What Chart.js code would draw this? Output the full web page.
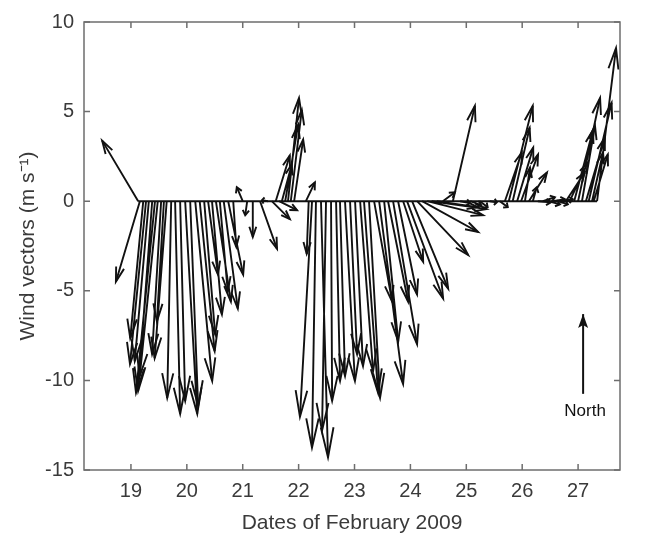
<!DOCTYPE html>
<html>
<head>
<meta charset="utf-8">
<script src="https://cdn.jsdelivr.net/npm/chart.js@4.4.1/dist/chart.umd.min.js"></script>
<style>
    html, body { margin: 0; padding: 0; background: #fff; }
    #wrap { width: 664px; height: 536px; }
</style>
</head>
<body>
<div id="wrap"><canvas id="windChart" width="664" height="536"></canvas></div>
<script>
// time of each observation (day of February 2009)
var TIMES = [
    19.13, 19.16, 19.22, 19.27, 19.32, 19.38, 19.43, 19.48, 19.54, 19.59,
    19.64, 19.72, 19.79, 19.88, 19.97, 20.06, 20.15, 20.23, 20.31, 20.38,
    20.45, 20.52, 20.59, 20.66, 20.74, 20.83, 21.00, 21.08, 21.18, 21.31,
    21.45, 21.52, 21.59, 21.65, 21.70, 21.76, 21.81, 21.86, 21.92, 22.13,
    22.18, 22.24, 22.31, 22.40, 22.49, 22.58, 22.67, 22.74, 22.83, 22.92,
    23.01, 23.10, 23.17, 23.26, 23.35, 23.44, 23.53, 23.60, 23.69, 23.78,
    23.87, 23.94, 24.03, 24.12, 24.21, 24.30, 24.38, 24.47, 24.58, 24.76,
    24.89, 25.07, 25.24, 25.42, 25.60, 25.69, 25.76, 25.83, 25.91, 25.98,
    26.05, 26.12, 26.19, 26.28, 26.37, 26.46, 26.55, 26.64, 26.71, 26.78,
    26.85, 26.93, 27.00, 27.07, 27.14, 27.19, 27.25, 27.28, 27.34
];
// east component (m/s)
var U_WIND = [
    -2.00, -1.33, -0.72, -0.89, -0.78, -0.78, -1.05, -1.00, -0.50, -0.39,
    -0.67, -0.22, 0.28, 0.28, 0.67, 0.44, 0.94, 0.83, 0.61, 0.55,
    0.55, 0.83, 0.44, 0.78, 0.83, 0.17, -0.33, -0.11, 0.00, 0.94,
    -0.33, 1.00, 0.78, 1.00, 0.55, 0.72, 0.61, 0.61, 0.50, 0.50,
    -0.11, -0.67, -0.22, 0.39, -0.22, 0.06, 0.22, 0.28, 0.55, 0.39,
    0.44, 0.72, 0.78, 0.61, 1.00, 1.33, 0.78, 1.11, 1.33, 1.05,
    1.11, 2.00, 2.00, 2.83, 3.10, 3.10, 3.05, 2.27, 0.67, 1.22,
    0.55, 0.61, 0.44, 0.39, 0.44, 0.94, 1.33, 0.94, 0.89, 0.94,
    0.28, 1.00, 0.22, 0.72, 0.67, 0.67, 0.67, 0.55, 0.61, 1.05,
    1.00, 1.05, 1.22, 0.72, 1.05, 1.27, 0.61, 0.78, 1.05
];
// north component (m/s)
var V_WIND = [
    3.38, -4.49, -7.65, -9.09, -8.92, -10.59, -10.70, -9.76, -8.54, -6.71,
    -8.76, -10.98, -11.86, -11.14, -11.86, -11.42, -10.03, -8.37, -7.43, -4.10,
    -6.32, -5.60, -5.04, -5.99, -4.10, -2.55, 0.78, -0.78, -2.00, -2.66,
    0.06, -1.00, 2.55, -0.50, 2.05, 4.27, 5.76, 5.10, 3.44, 1.05,
    -2.94, -12.03, -13.75, -14.30, -12.80, -11.14, -10.03, -9.76, -10.03, -8.54,
    -9.20, -9.48, -10.70, -10.98, -5.60, -10.20, -7.82, -5.60, -7.98, -5.21,
    -3.38, -5.43, -4.88, -3.00, -1.72, -0.78, -0.44, -0.33, 0.50, 5.32,
    -0.11, -0.22, -0.33, -0.06, -0.33, 2.72, 5.32, 4.10, 2.99, 2.61,
    1.88, 1.60, 0.78, -0.06, 0.22, -0.17, 0.11, -0.17, 0.11, 1.60,
    2.16, 3.99, 5.76, 4.21, 3.55, 5.49, 2.72, 2.61, 8.54
];

var X_TICKS = [19, 20, 21, 22, 23, 24, 25, 26, 27];
var Y_TICKS = [-15, -10, -5, 0, 5, 10];
var X_MIN = 18.16, X_MAX = 27.75;
var Y_MIN = -15, Y_MAX = 10;

// days of horizontal axis per 1 m/s, so that 1 m/s looks the same both ways
var U_SCALE = 0.3227;

// the "North" key arrow
var NORTH_T = 27.09, NORTH_Y0 = -10.75, NORTH_V = 4.45;

var INK = "#111111";
var AXIS_COLOR = "#6e6e6e";
var TEXT_COLOR = "#3a3a3a";
var FONT = "'Liberation Sans', Arial, Helvetica, sans-serif";
var LINE_W = 1.9;

var stems = [];
TIMES.forEach((t, i) => {
    stems.push({ x: t, y: 0 });
    stems.push({ x: t + U_WIND[i] * U_SCALE, y: V_WIND[i] });
    stems.push({ x: null, y: null });
});

var baseline = [
    { x: TIMES[0], y: 0 },
    { x: TIMES[TIMES.length - 1], y: 0 }
];

var northLine = [
    { x: NORTH_T, y: NORTH_Y0 },
    { x: NORTH_T, y: NORTH_Y0 + NORTH_V }
];

function drawHead(ctx, x0, y0, x1, y1) {
    var dx = x1 - x0, dy = y1 - y0;
    var len = Math.sqrt(dx * dx + dy * dy);
    if (len < 1.5) return;
    var ux = dx / len, uy = dy / len;
    var h = Math.min(len * 0.35, 7 + 0.09 * len);
    var w = 3 + 0.013 * len;
    var bx = x1 - ux * h, by = y1 - uy * h;
    ctx.beginPath();
    ctx.moveTo(bx - uy * w, by + ux * w);
    ctx.lineTo(x1, y1);
    ctx.lineTo(bx + uy * w, by - ux * w);
    ctx.stroke();
}

var arrowHeads = {
    id: "arrowHeads",
    afterDatasetsDraw(chart) {
        var xs = chart.scales.x, ys = chart.scales.y, ctx = chart.ctx, a = chart.chartArea;
        ctx.save();
        ctx.beginPath();
        ctx.rect(a.left, a.top, a.right - a.left, a.bottom - a.top);
        ctx.clip();
        ctx.strokeStyle = INK;
        ctx.lineWidth = LINE_W;
        ctx.lineJoin = "miter";
        TIMES.forEach((t, i) => {
            drawHead(ctx,
                xs.getPixelForValue(t), ys.getPixelForValue(0),
                xs.getPixelForValue(t + U_WIND[i] * U_SCALE), ys.getPixelForValue(V_WIND[i]));
        });
        var nx = xs.getPixelForValue(NORTH_T);
        var ny0 = ys.getPixelForValue(NORTH_Y0);
        var ny1 = ys.getPixelForValue(NORTH_Y0 + NORTH_V);
        ctx.fillStyle = INK;
        ctx.beginPath();
        ctx.moveTo(nx, ny1);
        ctx.lineTo(nx - 5, ny1 + 14);
        ctx.lineTo(nx, ny1 + 11);
        ctx.lineTo(nx + 5, ny1 + 14);
        ctx.closePath();
        ctx.fill();
        ctx.restore();

        ctx.save();
        ctx.fillStyle = "#111";
        ctx.font = "17px " + FONT;
        ctx.textAlign = "center";
        ctx.textBaseline = "top";
        ctx.fillText("North", nx + 2, ny0 + 9);
        ctx.restore();
    }
};

var frame = {
    id: "frame",
    afterDraw(chart) {
        var xs = chart.scales.x, ys = chart.scales.y, ctx = chart.ctx, a = chart.chartArea;
        var tl = 6;
        ctx.save();
        ctx.strokeStyle = AXIS_COLOR;
        ctx.lineWidth = 1.5;
        ctx.strokeRect(a.left, a.top, a.right - a.left, a.bottom - a.top);
        ctx.beginPath();
        X_TICKS.forEach(v => {
            var px = xs.getPixelForValue(v);
            ctx.moveTo(px, a.bottom); ctx.lineTo(px, a.bottom - tl);
            ctx.moveTo(px, a.top); ctx.lineTo(px, a.top + tl);
        });
        Y_TICKS.forEach(v => {
            var py = ys.getPixelForValue(v);
            ctx.moveTo(a.left, py); ctx.lineTo(a.left + tl, py);
            ctx.moveTo(a.right, py); ctx.lineTo(a.right - tl, py);
        });
        ctx.stroke();
        ctx.restore();
    }
};

var canvas = document.getElementById("windChart");
var windChart = new Chart(canvas, {
    type: "scatter",
    data: {
        datasets: [
            {
                label: "baseline",
                data: baseline,
                showLine: true,
                borderColor: INK,
                borderWidth: 2,
                pointRadius: 0
            },
            {
                label: "wind",
                data: stems,
                showLine: true,
                spanGaps: false,
                borderColor: INK,
                borderWidth: LINE_W,
                pointRadius: 0
            },
            {
                label: "north",
                data: northLine,
                showLine: true,
                borderColor: INK,
                borderWidth: 2,
                pointRadius: 0
            }
        ]
    },
    options: {
        responsive: false,
        animation: false,
        devicePixelRatio: 1,
        layout: { padding: { top: 19, right: 44, left: 0, bottom: 0 } },
        plugins: {
            legend: { display: false },
            tooltip: { enabled: false }
        },
        scales: {
            x: {
                type: "linear",
                min: X_MIN,
                max: X_MAX,
                afterBuildTicks: scale => { scale.ticks = X_TICKS.map(v => ({ value: v })); },
                afterFit: scale => { scale.height = 66; },
                grid: { display: false, drawTicks: false },
                border: { display: false },
                ticks: {
                    padding: 9,
                    color: TEXT_COLOR,
                    font: { family: FONT, size: 20 },
                    maxRotation: 0
                },
                title: {
                    display: true,
                    text: "Dates of February 2009",
                    color: TEXT_COLOR,
                    font: { family: FONT, size: 21 },
                    padding: { top: 0, bottom: 0 }
                }
            },
            y: {
                type: "linear",
                min: Y_MIN,
                max: Y_MAX,
                afterBuildTicks: scale => { scale.ticks = Y_TICKS.map(v => ({ value: v })); },
                afterFit: scale => { scale.width = 84; },
                grid: { display: false, drawTicks: false },
                border: { display: false },
                ticks: {
                    padding: 10,
                    color: TEXT_COLOR,
                    font: { family: FONT, size: 20 }
                },
                title: {
                    display: true,
                    text: "Wind vectors (m s\u207B\u00B9)",
                    color: TEXT_COLOR,
                    font: { family: FONT, size: 21 },
                    padding: { top: 16, bottom: 0 }
                }
            }
        }
    },
    plugins: [arrowHeads, frame]
});
</script>
</body>
</html>
